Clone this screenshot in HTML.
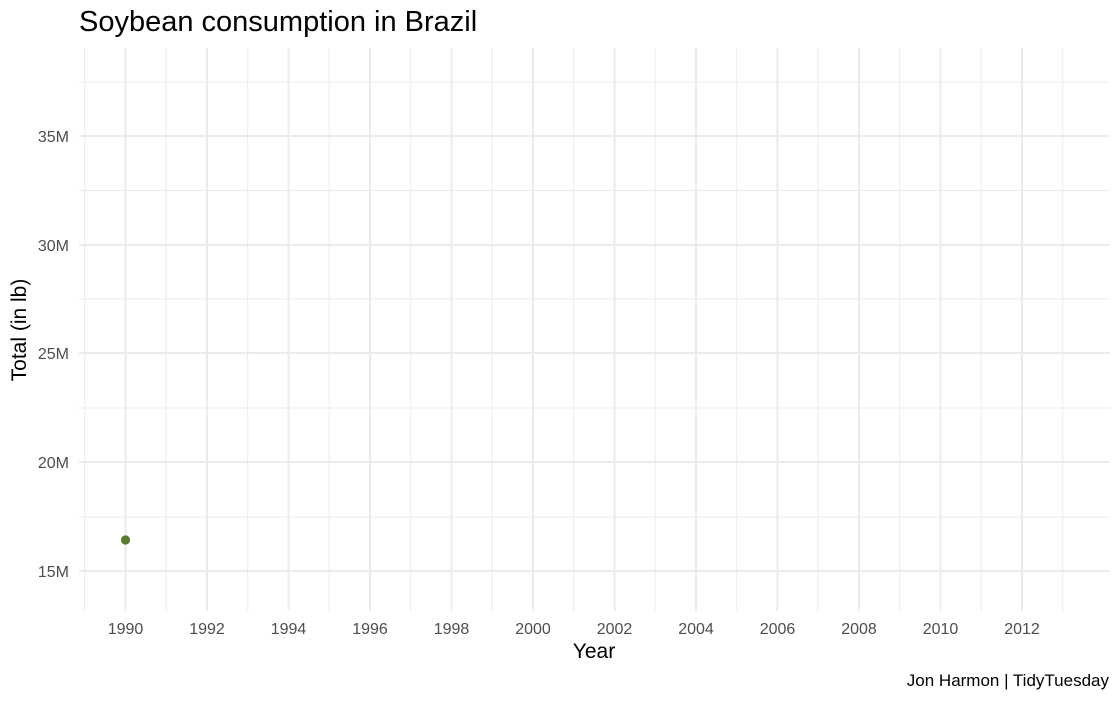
<!DOCTYPE html>
<html><head><style>body{margin:0;background:#fff}</style></head><body>
<svg width="1120" height="700" xmlns="http://www.w3.org/2000/svg" font-family="Liberation Sans, sans-serif">
<rect width="1120" height="700" fill="#fff"/>
<g stroke="#ebebeb" stroke-width="1">
<line x1="79" x2="1110" y1="82" y2="82"/>
<line x1="79" x2="1110" y1="190.5" y2="190.5"/>
<line x1="79" x2="1110" y1="299" y2="299"/>
<line x1="79" x2="1110" y1="408" y2="408"/>
<line x1="79" x2="1110" y1="517" y2="517"/>
</g>
<g stroke="#ebebeb" stroke-width="2">
<line x1="79" x2="1110" y1="136" y2="136"/>
<line x1="79" x2="1110" y1="245" y2="245"/>
<line x1="79" x2="1110" y1="353" y2="353"/>
<line x1="79" x2="1110" y1="462" y2="462"/>
<line x1="79" x2="1110" y1="571" y2="571"/>
</g>
<g stroke="#ebebeb" stroke-width="1">
<line x1="84.7" x2="84.7" y1="48" y2="611"/><line x1="166.2" x2="166.2" y1="48" y2="611"/>
<line x1="247.7" x2="247.7" y1="48" y2="611"/><line x1="329.2" x2="329.2" y1="48" y2="611"/>
<line x1="410.7" x2="410.7" y1="48" y2="611"/><line x1="492.2" x2="492.2" y1="48" y2="611"/>
<line x1="573.7" x2="573.7" y1="48" y2="611"/><line x1="655.2" x2="655.2" y1="48" y2="611"/>
<line x1="736.7" x2="736.7" y1="48" y2="611"/><line x1="818.2" x2="818.2" y1="48" y2="611"/>
<line x1="899.7" x2="899.7" y1="48" y2="611"/><line x1="981.2" x2="981.2" y1="48" y2="611"/>
<line x1="1062.7" x2="1062.7" y1="48" y2="611"/>
</g>
<g stroke="#ebebeb" stroke-width="2">
<line x1="125.5" x2="125.5" y1="48" y2="611"/><line x1="207" x2="207" y1="48" y2="611"/>
<line x1="288.5" x2="288.5" y1="48" y2="611"/><line x1="370" x2="370" y1="48" y2="611"/>
<line x1="451.5" x2="451.5" y1="48" y2="611"/><line x1="533" x2="533" y1="48" y2="611"/>
<line x1="614.5" x2="614.5" y1="48" y2="611"/><line x1="696" x2="696" y1="48" y2="611"/>
<line x1="777.5" x2="777.5" y1="48" y2="611"/><line x1="859" x2="859" y1="48" y2="611"/>
<line x1="940.5" x2="940.5" y1="48" y2="611"/><line x1="1022" x2="1022" y1="48" y2="611"/>
</g>
<circle cx="125.5" cy="540" r="4.6" fill="#5a7a2f"/>
<g fill="#4d4d4d" font-size="16" text-anchor="end">
<text x="69" y="142">35M</text><text x="69" y="251">30M</text><text x="69" y="359">25M</text>
<text x="69" y="468">20M</text><text x="69" y="577">15M</text>
</g>
<g fill="#4d4d4d" font-size="16" text-anchor="middle">
<text x="125.5" y="634">1990</text><text x="207" y="634">1992</text><text x="288.5" y="634">1994</text>
<text x="370" y="634">1996</text><text x="451.5" y="634">1998</text><text x="533" y="634">2000</text>
<text x="614.5" y="634">2002</text><text x="696" y="634">2004</text><text x="777.5" y="634">2006</text>
<text x="859" y="634">2008</text><text x="940.5" y="634">2010</text><text x="1022" y="634">2012</text>
</g>
<text x="594" y="658" font-size="21" text-anchor="middle" fill="#000">Year</text>
<text transform="translate(26,330) rotate(-90)" font-size="21" text-anchor="middle" fill="#000">Total (in lb)</text>
<text x="79" y="31" font-size="29" fill="#000">Soybean consumption in Brazil</text>
<text x="1109" y="686" font-size="17" text-anchor="end" fill="#000">Jon Harmon | TidyTuesday</text>
</svg>
</body></html>
